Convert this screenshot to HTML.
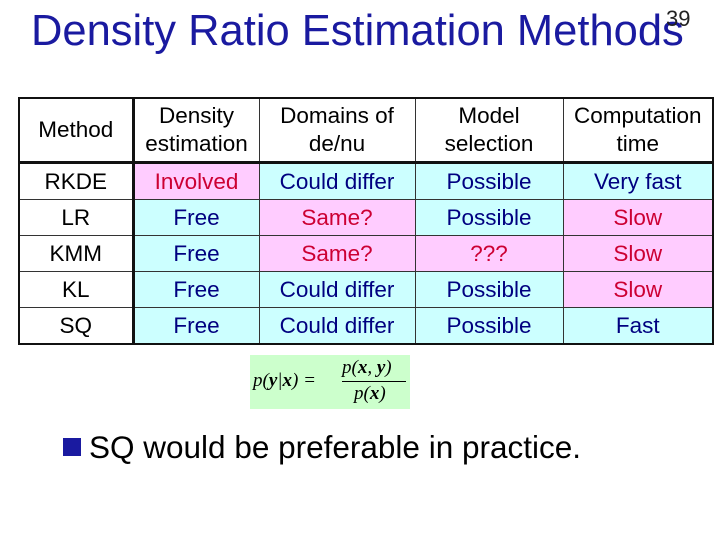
<!DOCTYPE html>
<html><head><meta charset="utf-8"><style>
body{margin:0;width:720px;height:540px;background:#fff;position:relative;overflow:hidden;font-family:"Liberation Sans",sans-serif;}
#title{position:absolute;left:31px;top:7px;font-size:43.5px;color:#1a1aa0;white-space:nowrap;}
#pnum{position:absolute;left:666px;top:6px;font-size:22px;color:#222;}
table{position:absolute;left:18px;top:97px;border-collapse:collapse;border:2px solid #111;}
td{border:1px solid #333;text-align:center;font-size:22.5px;height:35px;padding:0;line-height:28px;white-space:nowrap;}
tr.h td{height:62px;color:#000;border-bottom:3px solid #111;}
td.m{border-right:3px solid #111;color:#000;}
.p{background:#ffccff;color:#cc0033;}
.c{background:#ccffff;color:#000080;}
#formula{position:absolute;left:250px;top:355px;width:160px;height:54px;background:#ccffcc;font-family:"Liberation Serif",serif;font-style:italic;font-size:19px;}
#bullet{position:absolute;left:63px;top:429px;font-size:31.5px;color:#000;white-space:nowrap;}
#bullet span{display:inline-block;width:18px;height:18px;background:#1a1aa0;margin-right:8px;vertical-align:2px;}
</style></head><body>
<div id="title">Density Ratio Estimation Methods</div>
<div id="pnum">39</div>
<table>
<colgroup><col style="width:114px"><col style="width:126px"><col style="width:156px"><col style="width:148px"><col style="width:150px"></colgroup>
<tr class="h"><td class="m">Method</td><td>Density<br>estimation</td><td>Domains of<br>de/nu</td><td>Model<br>selection</td><td>Computation<br>time</td></tr>
<tr><td class="m">RKDE</td><td class="p">Involved</td><td class="c">Could differ</td><td class="c">Possible</td><td class="c">Very fast</td></tr>
<tr><td class="m">LR</td><td class="c">Free</td><td class="p">Same?</td><td class="c">Possible</td><td class="p">Slow</td></tr>
<tr><td class="m">KMM</td><td class="c">Free</td><td class="p">Same?</td><td class="p">???</td><td class="p">Slow</td></tr>
<tr><td class="m">KL</td><td class="c">Free</td><td class="c">Could differ</td><td class="c">Possible</td><td class="p">Slow</td></tr>
<tr><td class="m">SQ</td><td class="c">Free</td><td class="c">Could differ</td><td class="c">Possible</td><td class="c">Fast</td></tr>
</table>
<div id="formula">
<span style="position:absolute;left:3px;top:15px;">p(<b>y</b>|<b>x</b>) =</span>
<span style="position:absolute;left:92px;top:2px;">p(<b>x</b>, <b>y</b>)</span>
<span style="position:absolute;left:92px;top:26px;width:64px;border-top:1px solid #000;"></span>
<span style="position:absolute;left:104px;top:28px;">p(<b>x</b>)</span>
</div>
<div id="bullet"><span></span>SQ would be preferable in practice.</div>
</body></html>
